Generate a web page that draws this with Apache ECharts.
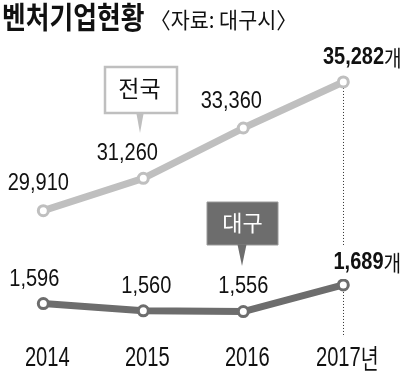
<!DOCTYPE html>
<html>
<head>
<meta charset="utf-8">
<script src="https://cdn.jsdelivr.net/npm/echarts@6/dist/echarts.min.js"></script>
<style>
html,body{margin:0;padding:0;background:#fff;}
#chart{width:403px;height:373px;}
</style>
</head>
<body>
<div id="chart"></div>
<script>
// ---- data ----
const years = ['2014', '2015', '2016', '2017'];
const xTickLabels = ['2014', '2015', '2016', '2017년'];
const nationalValues = [29910, 31260, 33360, 35282];
const daeguValues = [1596, 1560, 1556, 1689];
const titleText = '벤처기업현황';
const sourceText = '〈자료: 대구시〉';
const nationalName = '전국';
const daeguName = '대구';
const unitSuffix = '개';

// ---- styles ----
const NUMF = "'Liberation Sans',Arial,sans-serif";
const KR = "'Noto Sans CJK KR',sans-serif";
const natColor = '#bfbfbf';
const dgColor = '#6d6d6d';
const natLabelOffsets = [[-5, -27], [-16, -25], [-12, -26.5], [19, -24.5]];
const dgLabelOffsets = [[-9, -24], [3, -24], [0, -25], [24, -22.5]];
const NAT_MIN = 24500, NAT_MAX = 37000;
const DG_MIN = 1413, DG_MAX = 2905;

function fmt(v) { return v.toLocaleString('en-US'); }

function labelSeries(values, offsets, yAxisIndex) {
  return {
    type: 'custom',
    coordinateSystem: 'cartesian2d',
    xAxisIndex: 0,
    yAxisIndex: yAxisIndex,
    z: 5,
    silent: true,
    data: values.map((v, i) => [i, v]),
    renderItem: function (params, api) {
      const i = params.dataIndex;
      const v = api.value(1);
      const pt = api.coord([api.value(0), v]);
      const last = i === values.length - 1;
      const style = {
        text: last ? '{n|' + fmt(v) + '}{u|' + unitSuffix + '}' : fmt(v),
        fill: '#111',
        font: '23px ' + NUMF,
        align: 'center', verticalAlign: 'middle',
        textAlign: 'center', textVerticalAlign: 'middle'
      };
      if (last) {
        style.rich = {
          n: { font: 'bold 23px ' + NUMF, fill: '#111' },
          u: { font: '22px ' + KR, fill: '#111' }
        };
        style.backgroundColor = '#fff';
        style.padding = [5, 2];
      }
      return {
        type: 'text',
        x: pt[0] + offsets[i][0],
        y: pt[1] + offsets[i][1],
        scaleX: 0.87,
        style: style
      };
    }
  };
}

const chart = echarts.init(document.getElementById('chart'), null, { renderer: 'canvas' });

const option = {
  animation: false,
  backgroundColor: '#fff',
  grid: { left: 43.3, right: 59.7, top: 40.8, bottom: 32.7, containLabel: false },
  xAxis: {
    type: 'category',
    data: years,
    boundaryGap: false,
    axisLine: { show: false },
    axisTick: { show: false },
    splitLine: { show: false },
    axisLabel: { show: false }
  },
  yAxis: [
    { type: 'value', min: NAT_MIN, max: NAT_MAX, show: false, splitLine: { show: false } },
    { type: 'value', min: DG_MIN, max: DG_MAX, show: false, splitLine: { show: false } }
  ],
  series: [
    {
      name: nationalName,
      type: 'line',
      yAxisIndex: 0,
      z: 3,
      data: nationalValues,
      symbol: 'circle',
      symbolSize: 10,
      itemStyle: { color: '#fff', borderColor: natColor, borderWidth: 3 },
      lineStyle: { color: natColor, width: 7 },
      label: { show: false },
      markLine: {
        silent: true,
        z: 1,
        symbol: 'none',
        label: { show: false },
        lineStyle: { color: '#333', width: 1, type: [1, 2] },
        data: [[{ coord: [3, nationalValues[3]] }, { coord: [3, NAT_MIN], y: 337 }]]
      }
    },
    {
      name: daeguName,
      type: 'line',
      yAxisIndex: 1,
      z: 3,
      data: daeguValues,
      symbol: 'circle',
      symbolSize: 10,
      itemStyle: { color: '#fff', borderColor: dgColor, borderWidth: 3 },
      lineStyle: { color: dgColor, width: 7 },
      label: { show: false }
    },
    labelSeries(nationalValues, natLabelOffsets, 0),
    labelSeries(daeguValues, dgLabelOffsets, 1),
    // category tick labels along the bottom
    {
      type: 'custom',
      coordinateSystem: 'cartesian2d',
      xAxisIndex: 0,
      yAxisIndex: 0,
      silent: true,
      z: 5,
      data: years.map((y, i) => [i, NAT_MIN]),
      renderItem: function (params, api) {
        const i = params.dataIndex;
        const pt = api.coord([api.value(0), api.value(1)]);
        const isLast = i === xTickLabels.length - 1;
        const txt = xTickLabels[i];
        const style = {
          text: isLast ? '{n|' + txt.slice(0, 4) + '}{u|' + txt.slice(4) + '}' : txt,
          fill: '#111',
          font: '28px ' + NUMF,
          align: 'center', verticalAlign: 'middle',
          textAlign: 'center', textVerticalAlign: 'middle'
        };
        if (isLast) {
          style.rich = {
            n: { font: '28px ' + NUMF, fill: '#111' },
            u: { font: '27px ' + KR, fill: '#111' }
          };
        }
        return {
          type: 'text',
          x: pt[0] + 4,
          y: pt[1] + 18,
          scaleX: 0.72,
          style: style
        };
      }
    }
  ],
  graphic: [
    {
      type: 'text', x: 2, y: 17, scaleX: 0.86,
      style: { text: titleText, font: 'bold 30px ' + KR, fill: '#111', textAlign: 'left', textVerticalAlign: 'middle', align: 'left', verticalAlign: 'middle' }
    },
    {
      type: 'text', x: 150, y: 20, scaleX: 0.94,
      style: { text: sourceText, font: '22px ' + KR, fill: '#111', textAlign: 'left', textVerticalAlign: 'middle', align: 'left', verticalAlign: 'middle' }
    },
    // 전국 callout
    {
      type: 'rect', z: 10,
      shape: { x: 105, y: 67, width: 72, height: 46 },
      style: { fill: '#fff', stroke: natColor, lineWidth: 2.5 }
    },
    {
      type: 'polygon', z: 10,
      shape: { points: [[136.5, 114], [143.5, 114], [140, 133]] },
      style: { fill: natColor }
    },
    {
      type: 'text', z: 11, x: 139.5, y: 88.5,
      style: { text: nationalName, font: '23px ' + KR, fill: '#111', textAlign: 'center', textVerticalAlign: 'middle', align: 'center', verticalAlign: 'middle' }
    },
    // 대구 callout
    {
      type: 'rect', z: 10,
      shape: { x: 207, y: 202, width: 71, height: 43 },
      style: { fill: dgColor, stroke: '#9a9a9a', lineWidth: 1 }
    },
    {
      type: 'polygon', z: 10,
      shape: { points: [[237.5, 244.5], [246.5, 244.5], [242, 266]] },
      style: { fill: dgColor }
    },
    {
      type: 'text', z: 11, x: 242.5, y: 222.5,
      style: { text: daeguName, font: '22px ' + KR, fill: '#fff', textAlign: 'center', textVerticalAlign: 'middle', align: 'center', verticalAlign: 'middle' }
    }
  ]
};

chart.setOption(option);
</script>
</body>
</html>
